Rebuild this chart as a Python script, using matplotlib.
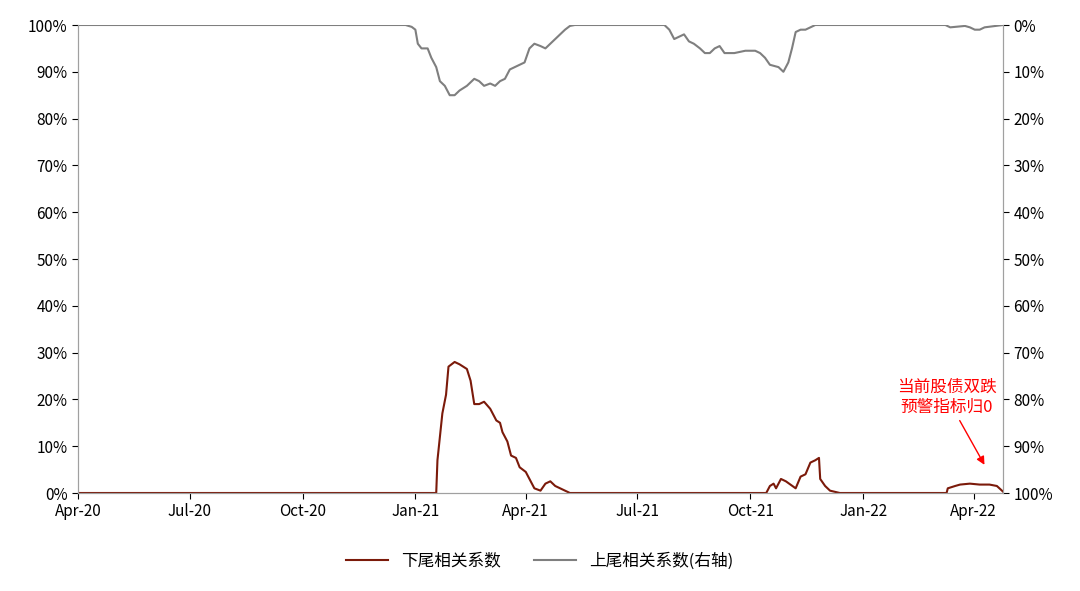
import matplotlib
matplotlib.use("Agg")
import matplotlib.pyplot as plt
import matplotlib.dates as mdates
import pandas as pd

plt.rcParams['font.family'] = ['Noto Sans CJK SC', 'DejaVu Sans']

lower_dates = ["2020-04-01","2021-01-18","2021-01-19","2021-01-23","2021-01-26","2021-01-28","2021-02-02",
    "2021-02-06","2021-02-12","2021-02-15","2021-02-18","2021-02-22","2021-02-26","2021-03-03","2021-03-08",
    "2021-03-11","2021-03-13","2021-03-17","2021-03-20","2021-03-24","2021-03-27","2021-04-01","2021-04-04",
    "2021-04-08","2021-04-13","2021-04-17","2021-04-21","2021-04-25","2021-04-29","2021-05-03","2021-05-07",
    "2021-10-14","2021-10-17","2021-10-20","2021-10-22","2021-10-26","2021-10-30","2021-11-07","2021-11-11",
    "2021-11-15","2021-11-19","2021-11-23","2021-11-26","2021-11-27","2021-12-01","2021-12-05","2021-12-13",
    "2022-03-10","2022-03-11","2022-03-17","2022-03-21","2022-03-29","2022-04-06","2022-04-14","2022-04-20","2022-04-25"]
lower_vals = [0,0,7,17,21,27,28,27.5,26.5,24,19,19,19.5,18,15.5,15,13,11,8,7.5,5.5,4.5,3,1,0.5,2,2.5,1.5,1,0.5,0,
    0,1.5,2,1,3,2.5,1,3.5,4,6.5,7,7.5,3,1.5,0.5,0,
    0,1,1.5,1.8,2,1.8,1.8,1.5,0.3]

upper_dates = ["2020-04-01","2020-12-24","2020-12-29","2021-01-01","2021-01-03","2021-01-06","2021-01-11",
    "2021-01-14","2021-01-18","2021-01-21","2021-01-25","2021-01-29","2021-02-02","2021-02-06","2021-02-12",
    "2021-02-18","2021-02-22","2021-02-26","2021-03-03","2021-03-07","2021-03-11","2021-03-15","2021-03-19",
    "2021-03-23","2021-03-27","2021-03-31","2021-04-04","2021-04-08","2021-04-13","2021-04-17","2021-04-21",
    "2021-04-25","2021-04-29","2021-05-03","2021-05-07","2021-05-11",
    "2021-07-23","2021-07-27","2021-07-31","2021-08-04","2021-08-08","2021-08-12","2021-08-16","2021-08-21",
    "2021-08-25","2021-08-29","2021-09-02","2021-09-06","2021-09-10","2021-09-18","2021-09-27","2021-10-05",
    "2021-10-09","2021-10-13","2021-10-17","2021-10-24","2021-10-28","2021-11-01","2021-11-04","2021-11-07",
    "2021-11-11","2021-11-15","2021-11-19","2021-11-23",
    "2022-03-09","2022-03-13","2022-03-25","2022-03-29","2022-04-02","2022-04-06","2022-04-10","2022-04-25"]
upper_vals = [0,0,0.4,1,4,5,5,7,9,12,13,15,15,14,13,11.5,12,13,12.5,13,12,11.5,9.5,9,8.5,8,5,4,4.5,5,4,3,2,1,0.2,0,
    0,1,3,2.5,2,3.5,4,5,6,6,5,4.5,6,6,5.5,5.5,6,7,8.5,9,10,8,5,1.5,1,1,0.5,0,
    0,0.5,0.2,0.5,1,1,0.5,0]

ld = pd.to_datetime(lower_dates)
ud = pd.to_datetime(upper_dates)

fig = plt.figure(figsize=(10.8, 5.91), dpi=100)
ax = fig.add_axes([78/1080, 1-493/591, (1003-78)/1080, 468/591])
ax2 = ax.twinx()
l1, = ax.plot(ld, [v/100 for v in lower_vals], color='#7B1A0A', lw=1.5, label='下尾相关系数')
l2, = ax2.plot(ud, [v/100 for v in upper_vals], color='#7F7F7F', lw=1.5, label='上尾相关系数(右轴)')

ax.set_ylim(0, 1)
ax2.set_ylim(1, 0)
ax.set_xlim(pd.Timestamp("2020-04-01"), pd.Timestamp("2022-04-25"))
ticks = [0, .1, .2, .3, .4, .5, .6, .7, .8, .9, 1]
for a in (ax, ax2):
    a.set_yticks(ticks)
    a.set_yticklabels([f"{int(round(t*100))}%" for t in ticks], fontsize=11)
    for s in a.spines.values():
        s.set_color('#A0A0A0')
    a.tick_params(colors='black', length=4)
ax.spines['top'].set_visible(False)
ax2.spines['top'].set_visible(False)
ax.xaxis.set_major_locator(mdates.MonthLocator(bymonth=[1, 4, 7, 10]))
ax.xaxis.set_major_formatter(mdates.DateFormatter('%b-%y'))
ax.tick_params(axis='x', labelsize=11)

ax.annotate('当前股债双跌\n预警指标归0', xy=(pd.Timestamp("2022-04-11"), 0.055),
            xytext=(pd.Timestamp("2022-03-10"), 0.205), color='red', fontsize=12, ha='center', va='center',
            arrowprops=dict(arrowstyle='-|>', color='red', lw=1))

fig.legend(handles=[l1, l2], loc='center', bbox_to_anchor=(0.5, 1-561/591), ncol=2, frameon=False,
           fontsize=12, handlelength=2.5, columnspacing=2)
fig.savefig('out.png', dpi=100)
